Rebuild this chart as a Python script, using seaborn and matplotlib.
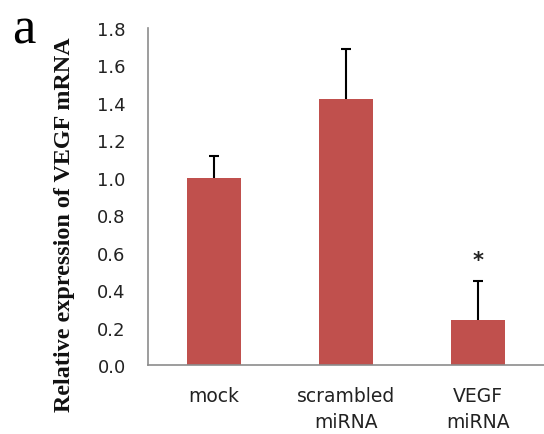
import numpy as np
import pandas as pd
import seaborn as sns
import matplotlib
matplotlib.use("Agg")
import matplotlib.pyplot as plt

# values
groups = ["mock", "scrambled\nmiRNA", "VEGF\nmiRNA"]
means = [1.00, 1.42, 0.24]
errors = [0.115, 0.27, 0.21]
significant = [False, False, True]

sns.set_theme(style="white")
plt.rcParams["font.family"] = "DejaVu Sans"

df = pd.DataFrame({"group": groups, "value": means})

fig = plt.figure(figsize=(5.44, 4.35), dpi=100)
ax = fig.add_axes([0.272, 0.1586, 0.728, 0.7747])

bar_color = "#C0504D"
sns.barplot(data=df, x="group", y="value", color=bar_color, width=0.41,
            saturation=1, ax=ax, errorbar=None, linewidth=0)

# upper-only error bars (stem + cap)
xpos = np.arange(len(groups))
tops = np.array(means) + np.array(errors)
cap = 0.04
ax.vlines(xpos, means, tops, color="black", linewidth=1.5)
ax.hlines(tops, xpos - cap, xpos + cap, color="black", linewidth=1.5)

for x, t, s in zip(xpos, tops, significant):
    if s:
        ax.text(x, t + 0.06, "*", ha="center", va="bottom",
                fontsize=15, fontweight="bold", color="#222222")

ax.set_xlim(-0.5, len(groups) - 0.5)
ax.set_ylim(0, 1.8)
yt = np.arange(0, 1.81, 0.2)
ax.set_yticks(yt)
ax.set_yticklabels([f"{v:.1f}" for v in yt])

# category boundaries as x tick marks, labels as minor ticks
ax.set_xticks(np.arange(-0.5, len(groups), 1.0))
ax.set_xticklabels([])
ax.set_xticks(xpos, minor=True)
ax.set_xticklabels(groups, minor=True, fontsize=13.5, color="#222222",
                   linespacing=1.45)
ax.tick_params(axis="x", which="major", direction="out", length=6,
               width=1.2, color="#8c8c8c")
ax.tick_params(axis="x", which="minor", length=0, pad=15)
ax.tick_params(axis="y", direction="out", length=7, width=1.2,
               color="#8c8c8c", labelsize=13, labelcolor="#222222", pad=9)
ax.set_xlabel("")
ax.set_ylabel("Relative expression of VEGF mRNA", family="Liberation Serif",
              fontweight="bold", fontsize=17.4, color="#111111")
ax.yaxis.set_label_coords(-0.184, 0.418)

for side in ["top", "right"]:
    ax.spines[side].set_visible(False)
for side in ["left", "bottom"]:
    ax.spines[side].set_color("#8c8c8c")
    ax.spines[side].set_linewidth(1.2)

fig.text(0.022, 0.901, "a", family="Liberation Serif", fontsize=38,
         va="baseline", ha="left", color="black")

fig.savefig("out.png", dpi=100)
